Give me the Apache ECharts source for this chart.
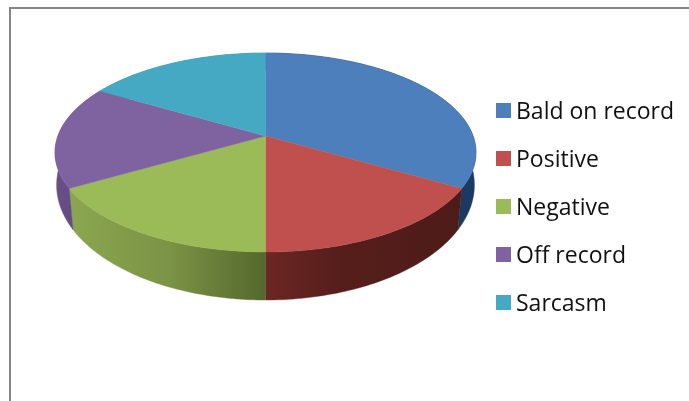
<!DOCTYPE html>
<html>
<head>
<meta charset="utf-8">
<style>html,body{margin:0;padding:0;background:#fff}#chart{width:689px;height:401px}</style>
<script src="https://cdn.jsdelivr.net/npm/echarts@6/dist/echarts.min.js"></script>
</head>
<body>
<div id="chart"></div>
<script>
// Share of each politeness strategy
const categories = ['Bald on record', 'Positive', 'Negative', 'Off record', 'Sarcasm'];
const values = [33.3, 16.7, 16.7, 16.7, 16.6];
const topColors = ['#4d7fbc', '#c0504d', '#9abb58', '#7f63a1', '#46a9c4'];

// Outer wall shading, as [x in pixels, colour] stops running left to right
const wallStops = [
  [[400, '#17365d'], [480, '#1c3b63']],
  [[265, '#6c2724'], [340, '#561e1b'], [460, '#4d1b18']],
  [[70, '#8ba650'], [170, '#7b9345'], [265, '#55682e']],
  [[55, '#674f88'], [100, '#5e4680']],
  [[100, '#2f7f95'], [265, '#2f7f95']]
];

// Perspective of the tilted disc: upper face and lower face each get their own projection
const upperFace = { k: 207.6, a: 136, b: -74.2, c: 0.1658 };
const lowerFace = { k: 207, a: 169.5, b: -90, c: 0.135 };
const centerX = 265.5;
const total = values.reduce((a, b) => a + b, 0);

function project(theta, face) {
  const s = Math.sin(theta), v = Math.cos(theta);
  const w = 1 + face.c * v;
  return [centerX + face.k * s / w, (face.a + face.b * v) / w];
}

function sliceAngles(index) {
  let before = 0;
  for (let i = 0; i < index; i++) before += values[i];
  return [before / total * 2 * Math.PI, (before + values[index]) / total * 2 * Math.PI];
}

function renderSlice(params) {
  const i = params.seriesIndex;
  const [from, to] = sliceAngles(i);
  const steps = Math.max(8, Math.ceil((to - from) * 180 / Math.PI));
  const upper = [], lower = [];
  for (let n = 0; n <= steps; n++) {
    const t = from + (to - from) * n / steps;
    upper.push(project(t, upperFace));
    lower.push(project(t, lowerFace));
  }
  const stops = wallStops[i];
  const x0 = stops[0][0], x1 = stops[stops.length - 1][0];
  const wallFill = {
    type: 'linear', x: x0, y: 0, x2: x1, y2: 0, global: true,
    colorStops: stops.map(s => ({ offset: (s[0] - x0) / (x1 - x0), color: s[1] }))
  };
  return {
    type: 'group',
    children: [
      {
        type: 'polygon', z2: 1,
        shape: { points: upper.concat(lower.slice().reverse()) },
        style: { fill: wallFill, stroke: wallFill, lineWidth: 0.4 }
      },
      {
        type: 'polygon', z2: 10,
        shape: { points: [[centerX, upperFace.a]].concat(upper) },
        style: { fill: topColors[i], stroke: topColors[i], lineWidth: 0.4 }
      }
    ]
  };
}

const chart = echarts.init(document.getElementById('chart'), null, { renderer: 'canvas' });
chart.setOption({
  animation: false,
  backgroundColor: '#fff',
  legend: {
    orient: 'vertical',
    left: 496,
    top: 96,
    icon: 'rect',
    itemWidth: 15,
    itemHeight: 15,
    itemGap: 19,
    padding: 0,
    selectedMode: false,
    data: categories,
    textStyle: {
      fontFamily: 'Open Sans', fontSize: 23, color: '#111',
      rich: {},
      lineHeight: 25, height: 25, padding: [4, 0, 0, 0]
    },
    formatter: name => name
  },
  graphic: [{
    type: 'polyline',
    silent: true,
    shape: { points: [[10, 401], [10, 8], [689, 8]] },
    style: { fill: 'none', stroke: '#868686', lineWidth: 2 }
  }],
  series: categories.map((name, i) => ({
    type: 'custom',
    name,
    coordinateSystem: 'none',
    renderItem: renderSlice,
    itemStyle: { color: topColors[i] },
    data: [[values[i]]],
    silent: true
  }))
});
</script>
</body>
</html>
